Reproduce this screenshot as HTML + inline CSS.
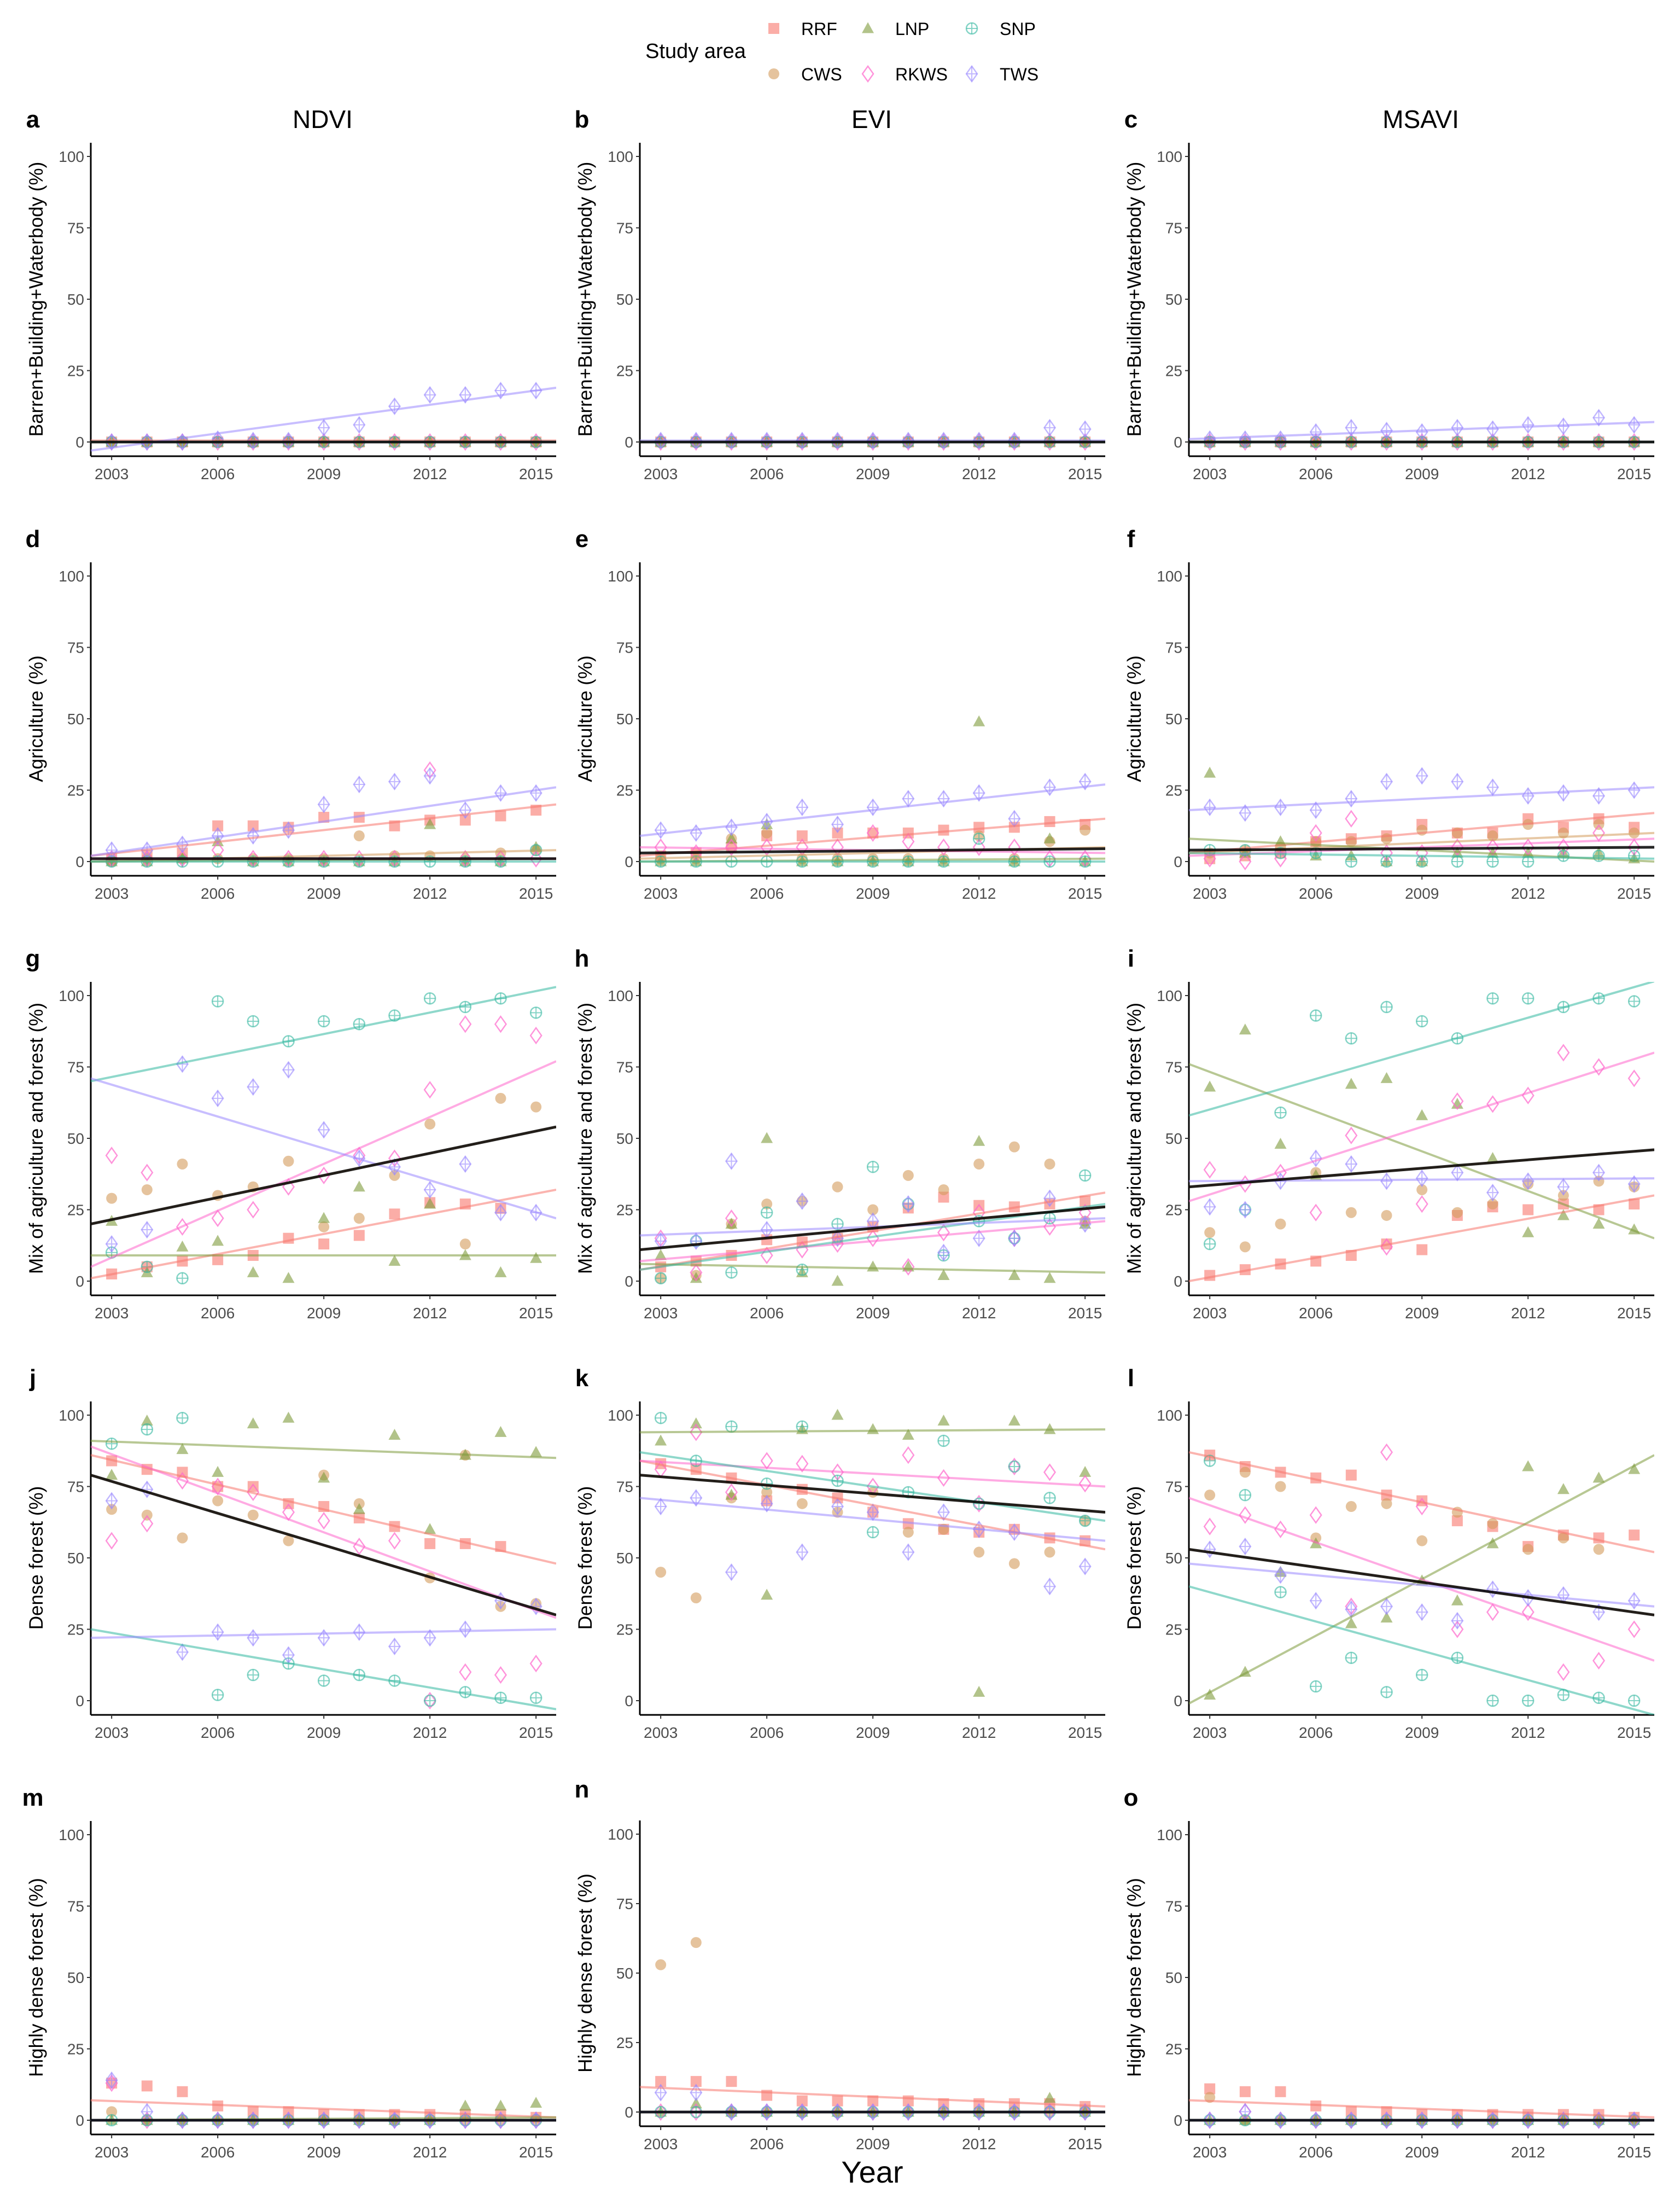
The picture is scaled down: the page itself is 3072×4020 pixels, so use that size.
<!DOCTYPE html>
<html><head><meta charset="utf-8"><style>
html,body{margin:0;padding:0;background:#fff;}
svg text{font-family:"Liberation Sans",Arial,sans-serif;}
</style></head><body>
<svg id="fig" xmlns="http://www.w3.org/2000/svg" width="3072" height="4015" viewBox="0 0 3072 4015">
<rect width="3072" height="4015" fill="#fff"/>
<g>
<text x="1272" y="106" font-size="38" text-anchor="middle">Study area</text>
</g>
<text x="1595" y="3990" font-size="56" text-anchor="middle">Year</text>
</svg>
<script>
const years=[2003,2004,2005,2006,2007,2008,2009,2010,2011,2012,2013,2014,2015];
const seriesNames=["RRF","CWS","LNP","RKWS","SNP","TWS"];
const yTicks=[0,25,50,75,100];
const xTicks=[2003,2006,2009,2012,2015];
const colTitles=["NDVI","EVI","MSAVI"];
const rowTitles=["Barren+Building+Waterbody (%)","Agriculture (%)","Mix of agriculture and forest (%)","Dense forest (%)","Highly dense forest (%)"];
const N=null;
// order: RRF, CWS, LNP, RKWS, SNP, TWS
const panel_a=[[0,0,0,0,0,0,0,0,0,0,0,0,0],[0,0,0,0,0,0,0,0,0,0,0,0,0],[0,0,0,0,0,0,0,0,0,0,0,0,0],[0,0,0,0,0,0,0,0,0,0,0,0,0],[0,0,0,0,0,0,0,0,0,0,0,0,0],[0,0,0,1,0.5,0.5,5,6,12.5,16.5,16.5,18,18]];
const panel_b=[[0,0,0,0,0,0,0,0,0,0,0,0,0],[0,0,0,0,0,0,0,0,0,0,0,0,0],[0,0,0,0,0,0,0,0,0,0,0,0,0],[0,0,0,0,0,0,0,0,0,0,0,0,0],[0,0,0,0,0,0,0,0,0,0,0,0,0],[0.5,0.5,0.5,0.5,0.5,0.5,0.5,0.5,0.5,0.5,0.5,5,4.5]];
const panel_c=[[0,0,0,0,0,0,0,0,0,0,0,0,0],[0,0,0,0,0,0,0,0,0,0,0,0,0],[0,0,0,0,0,0,0,0,0,0,0,0,0],[0,0,0,0,0,0,0,0,0,0,0,0,0],[0,0,0,0,0,0,0,0,0,0,0,0,0],[1,1,1,3.5,5,4,3.5,5,4.5,6,5.5,8.5,6]];
const panel_d=[[1,2,3,12.5,12.5,12,15.5,15.5,12.5,14.5,14.5,16,18],[0,1,1,1,1,1,1,9,2,2,1,3,4],[0,0,1,7,0,0,0,0,0,13,0,0,5],[1,1,1,4,1,1,1,1,1,32,1,1,1],[0,0,0,0,0,0,0,0,0,0,0,0,4],[4,4,6,9,9,11,20,27,28,30,18,24,24]];
const panel_e=[[2,3,5,9,9,10,10,10,11,12,12,14,13],[1,1,8,10,1,1,1,1,1,9,1,7,11],[0,0,8,13,0,0,0,0,0,49,0,8,0],[5,3,5,5,5,5,10,7,5,5,5,1,1],[0,0,0,0,0,0,0,0,0,8,0,0,0],[11,10,12,14,19,13,19,22,22,24,15,26,28]];
const panel_f=[[1,2,3,7,8,9,13,10,10,15,12,15,12],[3,4,5,7,7,8,11,10,9,13,10,13,10],[31,3,7,2,2,0,0,3,3,3,3,3,1],[1,0,1,10,15,3,3,5,5,5,5,10,5],[4,4,3,3,0,0,0,0,0,0,2,2,2],[19,17,19,18,22,28,30,28,26,23,24,23,25]];
const panel_g=[[2.5,5,7,7.5,9,15,13,16,23.5,27.5,27,25.5,N],[29,32,41,30,33,42,19,22,37,55,13,64,61],[21,3,12,14,3,1,22,33,7,27,9,3,8],[44,38,19,22,25,33,37,44,43,67,90,90,86],[10,5,1,98,91,84,91,90,93,99,96,99,94],[13,18,76,64,68,74,53,43,40,32,41,24,24]];
const panel_h=[[5,7,9,14.5,13.7,15,19,25.6,29.4,26.5,26,27,28],[1,2,20,27,28,33,25,37,32,41,47,41,21],[9,1,20,50,3,0,5,5,2,49,2,1,20],[15,3,22,9,11,13,15,5,17,24,15,19,24],[1,14,3,24,4,20,40,27,9,21,15,22,37],[14,14,42,18,28,15,21,27,10,15,15,29,20]];
const panel_i=[[2,4,6,7,9,13,11,23,26,25,27,25,27],[17,12,20,38,24,23,32,24,27,34,30,35,33],[68,88,48,37,69,71,58,62,43,17,23,20,18],[39,34,38,24,51,12,27,63,62,65,80,75,71],[13,25,59,93,85,96,91,85,99,99,96,99,98],[26,25,35,43,41,35,36,38,31,35,33,38,34]];
const panel_j=[[84,81,80,75,75,69,68,64,61,55,55,54,N],[67,65,57,70,65,56,79,69,N,43,86,33,34],[79,98,88,80,97,99,78,67,93,60,86,94,87],[56,62,77,75,73,66,63,54,56,0,10,9,13],[90,95,99,2,9,13,7,9,7,0,3,1,1],[70,74,17,24,22,16,22,24,19,22,25,35,33]];
const panel_k=[[83,81,78,70,74,71,66,62,60,59,60,57,56],[45,36,71,73,69,66,73,59,60,52,48,52,63],[91,97,72,37,95,100,95,93,98,3,98,95,80],[81,94,73,84,83,80,75,86,78,69,82,80,76],[99,84,96,76,96,77,59,73,91,69,82,71,63],[68,71,45,69,52,68,66,52,66,60,59,40,47]];
const panel_l=[[86,82,80,78,79,72,70,63,61,54,58,57,58],[72,80,75,57,68,69,56,66,62,53,57,53,N],[2,10,45,55,27,29,42,35,55,82,74,78,81],[61,65,60,65,33,87,68,25,31,31,10,14,25],[84,72,38,5,15,3,9,15,0,0,2,1,0],[53,54,44,35,32,33,31,28,39,36,37,31,35]];
const panel_m=[[13,12,10,5,3,3,2,2,2,2,2,2,1],[3,0,0,0,0,0,0,0,0,0,0,0,0],[0,0,0,0,0,0,0,0,0,0,5,5,6],[13,0,0,0,0,0,0,0,0,0,0,0,0],[0,0,0,0,0,0,0,0,0,0,0,0,0],[14,3,0,0,0,0,0,0,0,0,0,0,0]];
const panel_n=[[11,11,11,6,4,4,4,4,3,3,3,3,2],[53,61,0,0,0,0,0,0,0,0,0,0,0],[0,3,0,0,0,0,0,0,0,0,0,5,0],[0,0,0,0,0,0,0,0,0,0,0,0,0],[0,0,0,0,0,0,0,0,0,0,0,0,0],[7,7,0,0,0,0,0,0,0,0,0,0,0]];
const panel_o=[[11,10,10,5,3,3,2,2,2,2,2,2,1],[8,0,0,0,0,0,0,0,0,0,0,0,0],[0,0,0,0,0,0,0,0,0,0,0,0,0],[0,3,0,0,0,0,0,0,0,0,0,0,0],[0,0,0,0,0,0,0,0,0,0,0,0,0],[0,3,0,0,0,0,0,0,0,0,0,0,0]];
// model trend values at the left / right edge of each panel: RRF, CWS, LNP, RKWS, SNP, TWS, overall
const trend_a=[[0.5,0.5],[0,0],[0,0],[0,0],[0,0],[-3,19],[0,0]];
const trend_b=[[0,0],[0,0],[0,0],[0,0],[0,0],[0.5,0.5],[0,0]];
const trend_c=[[0,0],[0,0],[0,0],[0,0],[0,0],[1,7],[0,0]];
const trend_d=[[2,20],[0,4],[0,1],[1,1],[0,0],[2,26],[1,1]];
const trend_e=[[2,15],[1,5],[0,1],[5,3],[0,0],[9,27],[3,4.5]];
const trend_f=[[3,17],[3,10],[8,0],[2,8],[3,1],[18,26],[4,5]];
const trend_g=[[1,32],[20,54],[9,9],[5,77],[70,103],[71,22],[20,54]];
const trend_h=[[4,31],[11,26],[6,3],[7,21],[4,27],[16,22],[11,26]];
const trend_i=[[0,30],[33,46],[76,15],[28,80],[58,105],[35,36],[33,46]];
const trend_j=[[86,48],[79,30],[91,85],[89,29],[25,-3],[22,25],[79,30]];
const trend_k=[[84,53],[79,66],[94,95],[84,75],[87,63],[71,56],[79,66]];
const trend_l=[[87,52],[53,30],[-1,86],[71,14],[40,-5],[48,33],[53,30]];
const trend_m=[[7,1],[0,0],[0,1],[0,0],[0,0],[0,0],[0,0]];
const trend_n=[[9,2],[0,0],[0,0],[0,0],[0,0],[0,0],[0,0]];
const trend_o=[[7,1],[0,0],[0,0],[0,0],[0,0],[0,0],[0,0]];
const panels=[panel_a,panel_b,panel_c,panel_d,panel_e,panel_f,panel_g,panel_h,panel_i,panel_j,panel_k,panel_l,panel_m,panel_n,panel_o];
const trends=[trend_a,trend_b,trend_c,trend_d,trend_e,trend_f,trend_g,trend_h,trend_i,trend_j,trend_k,trend_l,trend_m,trend_n,trend_o];
const letters="abcdefghijklmno";

const NS="http://www.w3.org/2000/svg";
const svg=document.getElementById('fig');
const colors=["#F8766D","#D39B5B","#7E9B3C","#FF66CC","#33B8A0","#9A88FF"];
function mk(tag,attrs,parent){const e=document.createElementNS(NS,tag);for(const k in attrs)e.setAttribute(k,attrs[k]);(parent||svg).appendChild(e);return e;}

function drawShape(g,s,cx,cy,r){
  const c=colors[s];let e;
  if(s===0){e=mk('rect',{x:cx-r,y:cy-r,width:2*r,height:2*r,fill:c,'fill-opacity':0.6},g);}
  else if(s===1){e=mk('circle',{cx:cx,cy:cy,r:r,fill:c,'fill-opacity':0.6},g);}
  else if(s===2){e=mk('polygon',{points:`${cx},${cy-r*1.15} ${cx-r*1.1},${cy+r*0.85} ${cx+r*1.1},${cy+r*0.85}`,fill:c,'fill-opacity':0.6},g);}
  else if(s===3){e=mk('polygon',{points:`${cx},${cy-r*1.4} ${cx+r},${cy} ${cx},${cy+r*1.4} ${cx-r},${cy}`,fill:'none',stroke:c,'stroke-opacity':0.7,'stroke-width':2.5},g);}
  else if(s===4){e=mk('g',{},g);mk('circle',{cx:cx,cy:cy,r:r,fill:'none',stroke:c,'stroke-opacity':0.6,'stroke-width':2.5},e);mk('path',{d:`M${cx-r},${cy}H${cx+r}M${cx},${cy-r}V${cy+r}`,stroke:c,'stroke-opacity':0.6,'stroke-width':2},e);}
  else {e=mk('g',{},g);mk('polygon',{points:`${cx},${cy-r*1.4} ${cx+r},${cy} ${cx},${cy+r*1.4} ${cx-r},${cy}`,fill:'none',stroke:c,'stroke-opacity':0.6,'stroke-width':2.5},e);mk('path',{d:`M${cx-r},${cy}H${cx+r}M${cx},${cy-r*1.4}V${cy+r*1.4}`,stroke:c,'stroke-opacity':0.6,'stroke-width':2},e);}
  return e;
}

// legend
const legPos=[[1415,52,1465],[1415,135,1465],[1587,52,1637],[1587,135,1637],[1777,52,1828],[1777,135,1828]];
[0,1,2,3,4,5].forEach((s)=>{
  const p=legPos[s];
  const lg=mk('g',{});
  
  
  drawShape(lg,s,p[0],p[1],10);
  const t=mk('text',{x:p[2],y:p[1]+12,'font-size':32},lg);t.textContent=seriesNames[s];
});

const X0=2002.41,X1=2015.57,PW=851;
panels.forEach((data,pi)=>{
  const row=Math.floor(pi/3),col=pi%3;
  const ax=166+1004*col;
  let z=808+767*row,h=522;
  if(pi===13){z=3861;h=508;}
  const top=z-h-25,bot=z+26;
  const xs=yr=>ax+(yr-X0)/(X1-X0)*PW;
  const ys=v=>z-v/100*h;
  const g=mk('g',{});
  
  
  const cpid='cp'+pi;
  const cp=mk('clipPath',{id:cpid},g);mk('rect',{x:ax,y:top,width:PW,height:bot-top},cp);
  const lt=mk('text',{x:ax-106,y:z-575,'font-size':44,'font-weight':'bold','text-anchor':'middle'},g);lt.textContent=letters[pi];
  
  
  if(row===0){const ct=mk('text',{x:ax+424,y:234,'font-size':46,'text-anchor':'middle'},g);ct.textContent=colTitles[col];
    
    }
  const yt=mk('text',{x:0,y:0,'font-size':35,'text-anchor':'middle',transform:`translate(${ax-88},${z-h/2}) rotate(-90)`},g);yt.textContent=rowTitles[row];
  
  
  const axes=mk('g',{},g);
  
  
  mk('line',{x1:ax,y1:top,x2:ax,y2:bot,stroke:'#000','stroke-width':3},axes);
  mk('line',{x1:ax,y1:bot,x2:ax+PW,y2:bot,stroke:'#000','stroke-width':3},axes);
  yTicks.forEach(v=>{const y=ys(v);mk('line',{x1:ax-7,y1:y,x2:ax,y2:y,stroke:'#333','stroke-width':2},axes);
    const t=mk('text',{x:ax-12,y:y+10,'font-size':28,fill:'#4d4d4d','text-anchor':'end'},axes);t.textContent=v;});
  xTicks.forEach(yr=>{const x=xs(yr);mk('line',{x1:x,y1:bot,x2:x,y2:bot+7,stroke:'#333','stroke-width':2},axes);
    const t=mk('text',{x:x,y:bot+42,'font-size':28,fill:'#4d4d4d','text-anchor':'middle'},axes);t.textContent=yr;});
  const pts=mk('g',{'clip-path':`url(#${cpid})`},g);
  data.forEach((ser,s)=>{
    const sg=mk('g',{},pts);
    
    
    ser.forEach((v,i)=>{if(v===null)return;
      const m=drawShape(sg,s,xs(years[i]),ys(v),10);
      
      });
  });
  const tr=trends[pi];
  tr.forEach((t,s)=>{
    const isAll=(s===6);
    const l=mk('line',{x1:xs(X0),y1:ys(t[0]),x2:xs(X1),y2:ys(t[1]),stroke:isAll?'#000':colors[s],'stroke-opacity':isAll?0.85:0.55,'stroke-width':isAll?5:4},pts);
    
    
  });
});
</script>
</body></html>
